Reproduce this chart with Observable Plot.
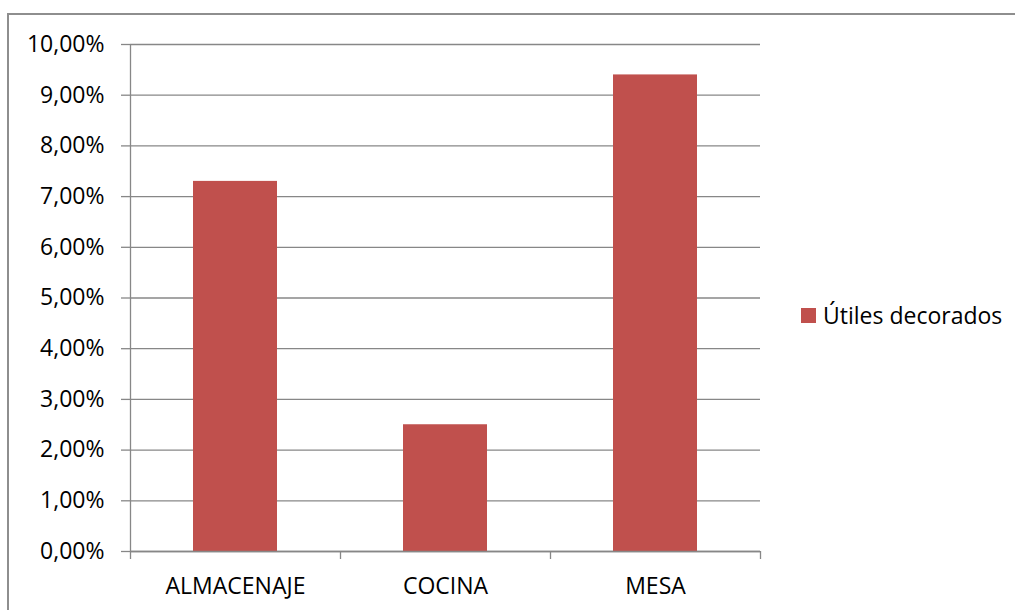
<!DOCTYPE html>
<html>
<head>
<meta charset="utf-8">
<script src="https://cdn.jsdelivr.net/npm/d3@7"></script>
<script src="https://cdn.jsdelivr.net/npm/@observablehq/plot@0.6"></script>
<style>
  html, body { margin: 0; padding: 0; background: #fff; }
  #wrap { position: relative; width: 1015px; height: 610px; overflow: hidden; font-family: "Open Sans", sans-serif; }
  #border { position: absolute; left: 7px; top: 13px; width: 1100px; height: 700px; border-left: 2px solid #8e8e8e; border-top: 2px solid #8e8e8e; pointer-events: none; }
  #legend { position: absolute; left: 801px; top: 299px; display: flex; align-items: center; font-size: 23px; color: #000; white-space: nowrap; }
  #legend .sw { width: 15px; height: 15px; margin-right: 7px; }
</style>
</head>
<body>
<div id="wrap">
  <div id="chart"></div>
  <div id="border"></div>
  <div id="legend"></div>
</div>
<script>
const categories = ["ALMACENAJE", "COCINA", "MESA"];
const values = [0.073, 0.025, 0.094];
const seriesName = "Útiles decorados";
const yTicks = [0, 0.01, 0.02, 0.03, 0.04, 0.05, 0.06, 0.07, 0.08, 0.09, 0.10];
const barColor = "#C0504D";
const gridColor = "#878787";

const data = categories.map((c, i) => ({cat: c, value: values[i]}));
const fmt = d => (d * 100).toFixed(2).replace(".", ",") + "%";
const halfStep = 105;

const chart = Plot.plot({
  width: 1015,
  height: 610,
  marginLeft: 130,
  marginRight: 255,
  marginTop: 44,
  marginBottom: 59,
  x: {domain: categories, paddingInner: 0.6, paddingOuter: 0.3},
  y: {domain: [0, 0.1]},
  style: {fontFamily: "Open Sans, sans-serif", fontSize: "23px", color: "#000", background: "transparent"},
  marks: [
    Plot.gridY(yTicks, {stroke: gridColor, strokeOpacity: 1, strokeWidth: 1.3}),
    Plot.axisY({ticks: yTicks, tickFormat: fmt, tickSize: 9, tickPadding: 17, stroke: gridColor, strokeWidth: 1.3, fill: "#000", label: null}),
    Plot.barY(data, {x: "cat", y: "value", fill: barColor}),
    Plot.ruleY([0], {stroke: gridColor, strokeWidth: 1.3}),
    Plot.ruleX([categories[0]], {x: d => d, dx: -halfStep, y1: 0, y2: 0.1, stroke: gridColor, strokeWidth: 1.3}),
    Plot.axisX({ticks: categories, tickFormat: () => "", tickSize: 8, dx: -halfStep, stroke: gridColor, strokeWidth: 1.3, label: null}),
    Plot.axisX({ticks: [categories[categories.length - 1]], tickFormat: () => "", tickSize: 8, dx: halfStep, stroke: gridColor, strokeWidth: 1.3, label: null}),
    Plot.axisX({ticks: categories, tickSize: 0, tickPadding: 26, fill: "#000", label: null})
  ]
});
document.getElementById("chart").appendChild(chart);

const legend = document.getElementById("legend");
const sw = document.createElement("span");
sw.className = "sw";
sw.style.background = barColor;
legend.appendChild(sw);
const lt = document.createElement("span");
lt.textContent = seriesName;
legend.appendChild(lt);
</script>
</body>
</html>
